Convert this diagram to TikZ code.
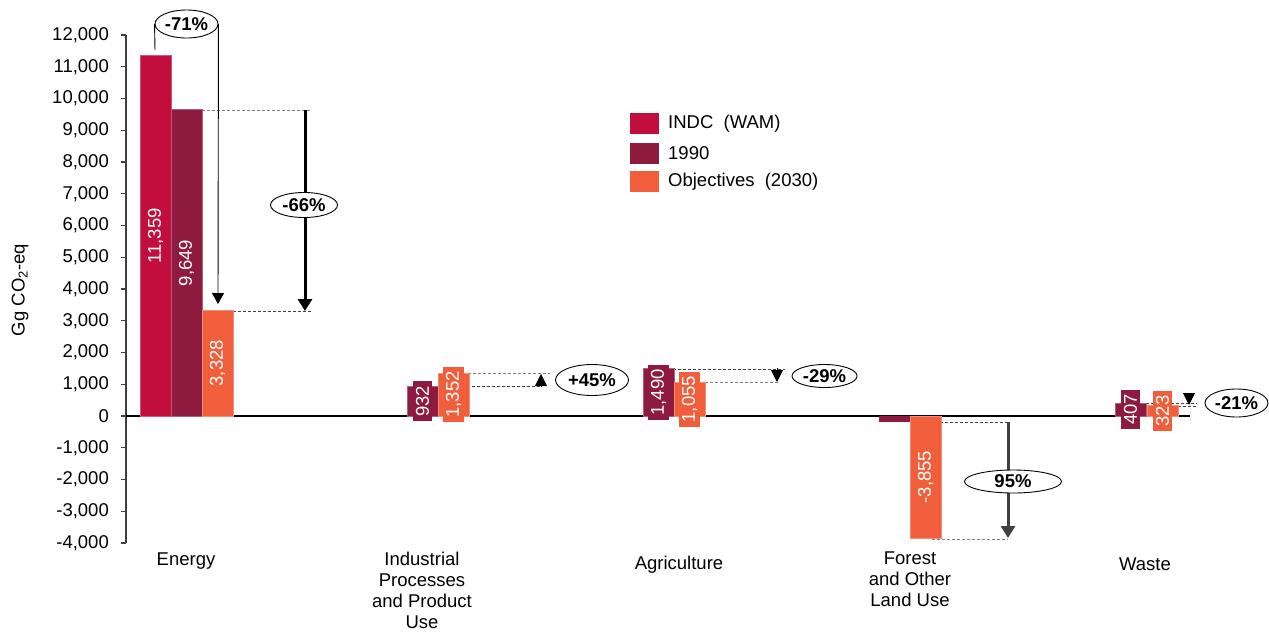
\documentclass[tikz,border=0pt]{standalone}
\usepackage{fontspec}
\setmainfont{Liberation Sans}
\usetikzlibrary{shapes.geometric,arrows.meta}
\definecolor{cIndc}{HTML}{C10E3C}
\definecolor{cYr}{HTML}{8E1A3F}
\definecolor{cObj}{HTML}{F05E3C}
\definecolor{cAx}{HTML}{404040}
\newcommand\fsz{\fontsize{18.5}{21}\selectfont}
% name, xleft, value, colour, label
\newcommand\mybar[5]{%
  \fill[#4] (#2,416) rectangle ({#2+31},{416-#3*0.03175});
  \draw[#4!70!white,line width=0.6pt] (#2,416) rectangle ({#2+31},{416-#3*0.03175});
  \node[vlab,fill=#4] (#1) at ({#2+15.5},{416-#3*0.015875}) {#5};}
\begin{document}
\begin{tikzpicture}[x=1pt,y=-1pt,font=\fsz,
  vlab/.style={rotate=90,text=white,inner xsep=4.5pt,inner ysep=3pt},
  pct/.style={ellipse,draw,fill=white,line width=0.9pt,inner sep=0pt,font=\fsz\bfseries},
  dsh/.style={dash pattern=on 3pt off 2pt,line width=0.8pt,black!75},
  dshg/.style={dash pattern=on 3pt off 2pt,line width=0.8pt,black!50},
  tri/.style={line width=0.8pt,-{Triangle[width=12pt,length=12pt]}},
  bigarr/.style={line width=3pt,-{Triangle[width=14pt,length=12pt]}},
  legsq/.style={minimum width=29pt,minimum height=21pt,inner sep=0pt},
  cat/.style={anchor=north,align=center,inner sep=0pt}]
\useasboundingbox (0,0) rectangle (1269,632);

% y axis
\draw[cAx,line width=1.5pt] (126,35) -- (126,543);
\foreach \v/\t in {12/{12,000},11/{11,000},10/{10,000},9/{9,000},8/{8,000},7/{7,000},6/{6,000},5/{5,000},4/{4,000},3/{3,000},2/{2,000},1/{1,000},0/0,-1/{-1,000},-2/{-2,000},-3/{-3,000},-4/{-4,000}}{
  \draw[cAx,line width=1.2pt] (121,{416-\v*31.75}) -- (126,{416-\v*31.75});
  \node[anchor=east,inner sep=2pt] (yt\v) at (111,{416-\v*31.75}) {\t};
}
\node[rotate=90] (ytitle) at (20,290) {Gg CO\textsubscript{2}-eq};

% named coordinates
\coordinate (e90) at (202,110);   \coordinate (e90r) at (312,110);
\coordinate (eob) at (233,311);   \coordinate (eobr) at (312,311);
\coordinate (a66t) at (305,110);  \coordinate (a66b) at (305,311);
\coordinate (a71l) at (155,50);   \coordinate (a71r) at (218,304);
\coordinate (i90) at (437,386);   \coordinate (i90r) at (540,386);
\coordinate (iob) at (468,373);   \coordinate (iobr) at (550,373);
\coordinate (t45a) at (541,387);  \coordinate (t45b) at (541,374);
\coordinate (g90) at (673,369);   \coordinate (g90r) at (785,369);
\coordinate (gob) at (705,382);   \coordinate (gobr) at (780,382);
\coordinate (t29a) at (777,368);  \coordinate (t29b) at (777,382);
\coordinate (f90) at (910,422);   \coordinate (f90r) at (1008,422);
\coordinate (fob) at (932,539);   \coordinate (fobr) at (1008,539);
\coordinate (a95t) at (1008,422); \coordinate (a95b) at (1008,538);
\coordinate (w90) at (1146,403);  \coordinate (w90r) at (1197,403);
\coordinate (wob) at (1178,406);  \coordinate (wobr) at (1197,406);
\coordinate (t21a) at (1189,393); \coordinate (t21b) at (1189,405);

% dashed guide lines
\draw[dshg] (e90) -- (e90r);
\draw[dsh] (eob) -- (eobr);
\draw[dshg] (iob) -- (iobr);
\draw[dsh] (i90) -- (i90r);
\draw[dsh] (g90) -- (g90r);
\draw[dshg] (gob) -- (gobr);
\draw[dsh] (f90) -- (f90r);
\draw[dshg] (fob) -- (fobr);
\draw[dsh] (w90) -- (w90r);
\draw[dsh] (wob) -- (wobr);

% zero line
\draw[black,line width=1.2pt] (126,416) -- (1190,416);

% bars
\mybar{bE1}{140}{11359}{cIndc}{11,359}
\mybar{bE2}{171}{9649}{cYr}{9,649}
\mybar{bE3}{202}{3328}{cObj}{3,328}
\mybar{bI2}{407}{932}{cYr}{932}
\mybar{bI3}{438}{1352}{cObj}{1,352}
\mybar{bA2}{643}{1490}{cYr}{1,490}
\mybar{bA3}{674}{1055}{cObj}{1,055}
\fill[cYr] (879,416) rectangle (910,422);
\mybar{bF3}{910}{-3855}{cObj}{-3,855}
\mybar{bW2}{1115}{407}{cYr}{407}
\mybar{bW3}{1147}{323}{cObj}{323}

% category labels
\node[cat] (cE) at (186,553) {Energy};
\node[cat] (cI) at (422,552) {Industrial\\Processes\\and Product\\Use};
\node[cat] (cA) at (679,556) {Agriculture};
\node[cat] (cF) at (910,552) {Forest\\and Other\\Land Use};
\node[cat] (cW) at (1145,558) {Waste};

% legend
\node[legsq,fill=cIndc] (l1) at (644.5,123.5) {};
\node[legsq,fill=cYr] (l2) at (644.5,153) {};
\node[legsq,fill=cObj] (l3) at (644.5,181.5) {};
\node[anchor=west,inner sep=0pt] (lt1) at (668,124) {INDC\ \ (WAM)};
\node[anchor=west,inner sep=0pt] (lt2) at (668,153) {1990};
\node[anchor=west,inner sep=0pt] (lt3) at (668,182) {Objectives\ \ (2030)};

% arrows
\draw[bigarr] (a66t) -- (a66b);
\draw[bigarr,cAx] (a95t) -- (a95b);
\draw[tri] (t45a) -- (t45b);
\draw[tri] (t29a) -- (t29b);
\draw[tri] (t21a) -- (t21b);

% percentage ellipses
\node[pct,minimum width=63pt,minimum height=28pt] (p71) at (186.5,24) {-71\%};
\draw[line width=0.9pt] (p71.west) -- (a71l);
\draw[line width=0.9pt,-{Triangle[width=12pt,length=11pt]}] (p71.east) -- (a71r);
\node[pct,minimum width=67pt,minimum height=25pt] (p66) at (304,205) {-66\%};
\node[pct,minimum width=73pt,minimum height=31pt] (p45) at (592,380) {+45\%};
\node[pct,minimum width=65pt,minimum height=23pt] (p29) at (824.5,376) {-29\%};
\node[pct,minimum width=97pt,minimum height=23pt] (p95) at (1013,481.5) {95\%};
\node[pct,minimum width=63pt,minimum height=28pt] (p21) at (1236.5,403) {-21\%};
\end{tikzpicture}
\end{document}
